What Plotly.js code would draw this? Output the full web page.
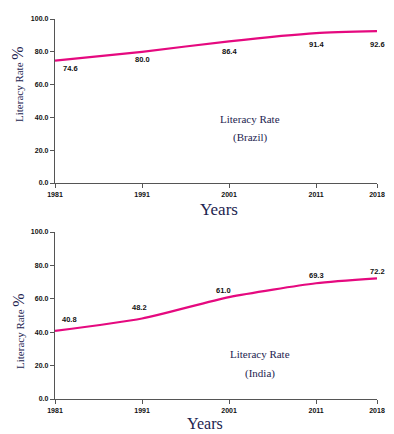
<!DOCTYPE html>
<html>
<head>
<meta charset="utf-8">
<script src="https://cdn.plot.ly/plotly-3.0.1.min.js"></script>
<style>html,body{margin:0;padding:0;background:#fff}#chart{width:394px;height:434px}</style>
</head>
<body>
<div id="chart"></div>
<script>
const years = [1981, 1991, 2001, 2011, 2018];
const yearLabels = ['1981', '1991', '2001', '2011', '2018'];
const brazilRate = [74.6, 80.0, 86.4, 91.4, 92.6];
const indiaRate = [40.8, 48.2, 61.0, 69.3, 72.2];
const yTicks = [0, 20, 40, 60, 80, 100];
const yTickLabels = ['0.0', '20.0', '40.0', '60.0', '80.0', '100.0'];

const lineColor = '#e5097f';
const titleColor = '#1d2450';
const serif = 'Liberation Serif, Times New Roman, serif';
const sans = 'Liberation Sans, Arial, sans-serif';

const W = 394, H = 434, ML = 55, MR = 17, MT = 19, MB = 35;
const PW = W - ML - MR, PH = H - MT - MB;
const px = p => (p - ML) / PW;
const py = p => (H - MB - p) / PH;

const traces = [
  {x: years, y: brazilRate, xaxis: 'x', yaxis: 'y', mode: 'lines',
   line: {color: lineColor, width: 2.2, shape: 'spline', smoothing: 0.6}, hoverinfo: 'none'},
  {x: years, y: indiaRate, xaxis: 'x2', yaxis: 'y2', mode: 'lines',
   line: {color: lineColor, width: 2.2, shape: 'spline', smoothing: 0.6}, hoverinfo: 'none'}
];

const labelFont = {family: sans, size: 7.5, color: '#111', weight: 700};
const brazilShift = [[15, -8], [0, -8], [0, -10], [0, -11], [0, -13]];
const indiaShift = [[14, 11], [-3, 11], [-6, 7], [0, 8], [0, 7]];

const annotations = [];
years.forEach((yr, i) => {
  annotations.push({x: yr, y: brazilRate[i], xref: 'x', yref: 'y', text: brazilRate[i].toFixed(1),
    showarrow: false, font: labelFont, xanchor: 'center', yanchor: 'middle',
    xshift: brazilShift[i][0], yshift: brazilShift[i][1]});
  annotations.push({x: yr, y: indiaRate[i], xref: 'x2', yref: 'y2', text: indiaRate[i].toFixed(1),
    showarrow: false, font: labelFont, xanchor: 'center', yanchor: 'middle',
    xshift: indiaShift[i][0], yshift: indiaShift[i][1]});
});

const noteFont = {family: serif, size: 11, color: titleColor};
const yearsFont = {family: serif, size: 17, color: titleColor};
const paperNote = (x, y, text, font, extra) => Object.assign({xref: 'paper', yref: 'paper', x: px(x), y: py(y),
  text: text, showarrow: false, font: font, xanchor: 'center', yanchor: 'middle', borderpad: 0}, extra || {});
const yTitle = 'Literacy Rate <span style="font-size:16px">%</span>';
annotations.push(
  paperNote(250, 119, 'Literacy Rate', noteFont),
  paperNote(250, 137, '(Brazil)', noteFont),
  paperNote(260, 354, 'Literacy Rate', noteFont),
  paperNote(260, 373, '(India)', noteFont),
  paperNote(219, 209, 'Years', yearsFont),
  paperNote(205, 423, 'Years', {family: serif, size: 16, color: titleColor}),
  paperNote(18, 84, yTitle, noteFont, {textangle: -90}),
  paperNote(18, 331, yTitle, noteFont, {textangle: -90})
);

const tickFont = {family: sans, size: 7, color: '#111', weight: 700};
const xBase = {range: [1981, 2018], tickmode: 'array', tickvals: years, ticktext: yearLabels,
  showgrid: false, zeroline: false, showline: true, linecolor: '#555', linewidth: 1.2,
  ticks: 'outside', ticklen: 4, tickcolor: '#555', tickfont: tickFont, fixedrange: true};
const yBase = {range: [0, 100], tickmode: 'array', tickvals: yTicks, ticktext: yTickLabels,
  showgrid: false, zeroline: false, showline: true, linecolor: '#555', linewidth: 1.2,
  ticks: 'outside', ticklen: 4, tickcolor: '#555', tickfont: tickFont, fixedrange: true};

const layout = {
  width: W, height: H,
  margin: {l: ML, r: MR, t: MT, b: MB},
  paper_bgcolor: '#fff', plot_bgcolor: '#fff',
  showlegend: false,
  xaxis: Object.assign({}, xBase, {domain: [0, 1], anchor: 'y'}),
  yaxis: Object.assign({}, yBase, {domain: [py(183), 1], anchor: 'x'}),
  xaxis2: Object.assign({}, xBase, {domain: [0, 1], anchor: 'y2'}),
  yaxis2: Object.assign({}, yBase, {domain: [0, py(232)], anchor: 'x2'}),
  annotations: annotations
};

Plotly.newPlot('chart', traces, layout, {staticPlot: true, displayModeBar: false});
</script>
</body>
</html>
